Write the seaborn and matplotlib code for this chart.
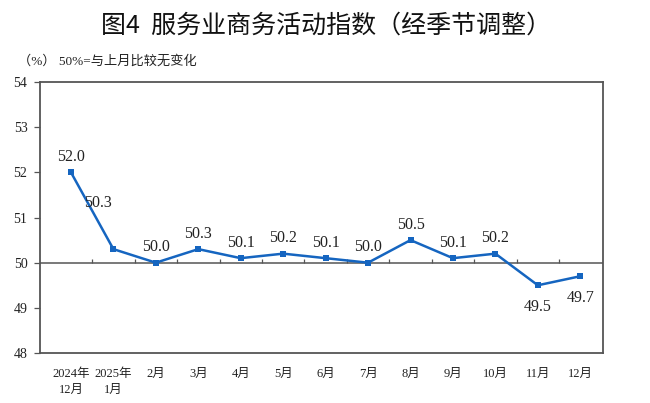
import numpy as np
import pandas as pd
import matplotlib
matplotlib.use("Agg")
import matplotlib.pyplot as plt
import seaborn as sns

# month labels and index values
months = ["2024年\n12月", "2025年\n1月", "2月", "3月", "4月", "5月", "6月",
          "7月", "8月", "9月", "10月", "11月", "12月"]
values = [52.0, 50.3, 50.0, 50.3, 50.1, 50.2, 50.1, 50.0, 50.5, 50.1, 50.2, 49.5, 49.7]
yticks = [48, 49, 50, 51, 52, 53, 54]

sns.set_style("white")
serif = ["Liberation Serif", "Noto Sans CJK SC"]
plt.rcParams["font.family"] = serif

df = pd.DataFrame({"pos": np.arange(len(months)), "value": values})
blue = "#1565c0"
frame = "#555555"

fig = plt.figure(figsize=(6.5, 4.03), dpi=100)
ax = fig.add_axes([0.0615, 0.124, 0.8665, 0.6725])

sns.lineplot(data=df, x="pos", y="value", ax=ax, color=blue, linewidth=1.8,
             marker="s", markersize=5, markeredgewidth=0, markerfacecolor=blue)

ax.set_xlim(-0.73, 12.54)
ax.set_ylim(48, 54)
ax.set_yticks(yticks)
ax.set_yticklabels([str(t) for t in yticks])
ax.set_xticks(df["pos"])
ax.set_xticklabels(months)
ax.tick_params(axis="x", length=0, pad=11, labelsize=9, colors="#222222")
ax.tick_params(axis="y", length=4, width=0.9, pad=5, labelsize=10, colors="#222222",
               direction="out", left=True, color=frame)
for lbl in ax.get_xticklabels():
    lbl.set_linespacing(1.35)
for sp in ax.spines.values():
    sp.set_color(frame)
    sp.set_linewidth(1.3)

# reference line at 50 with small upward ticks between months
ax.axhline(50, color=frame, linewidth=1.1, zorder=1)
bounds = df["pos"].values[:-1] + 0.5
ax.vlines(bounds, 50, 50.09, color=frame, linewidth=0.9, zorder=1)

# data labels: offsets in points
offsets = [(0, 11), (-11, 33), (0, 11), (0, 11), (0, 11), (0, 11), (0, 11),
           (0, 11), (0, 11), (0, 11), (0, 11), (0, -16), (0, -16)]
for (p, v), (dx, dy) in zip(zip(df["pos"], df["value"]), offsets):
    ax.annotate(f"{v:.1f}", (p, v), xytext=(dx, dy), textcoords="offset points",
                ha="center", va="center", fontsize=11.5, color="#222222")

ax.set_xlabel("")
ax.set_ylabel("")

fig.text(0.502, 0.937, "图4  服务业商务活动指数（经季节调整）", ha="center", va="center",
         fontsize=18, fontweight="medium", family=["Noto Sans CJK SC", "DejaVu Sans"],
         color="#111111")
fig.text(0.028, 0.848, "（%） 50%=与上月比较无变化", ha="left", va="center",
         fontsize=9.5, family=serif, color="#222222")

fig.savefig("out.png", dpi=100)
